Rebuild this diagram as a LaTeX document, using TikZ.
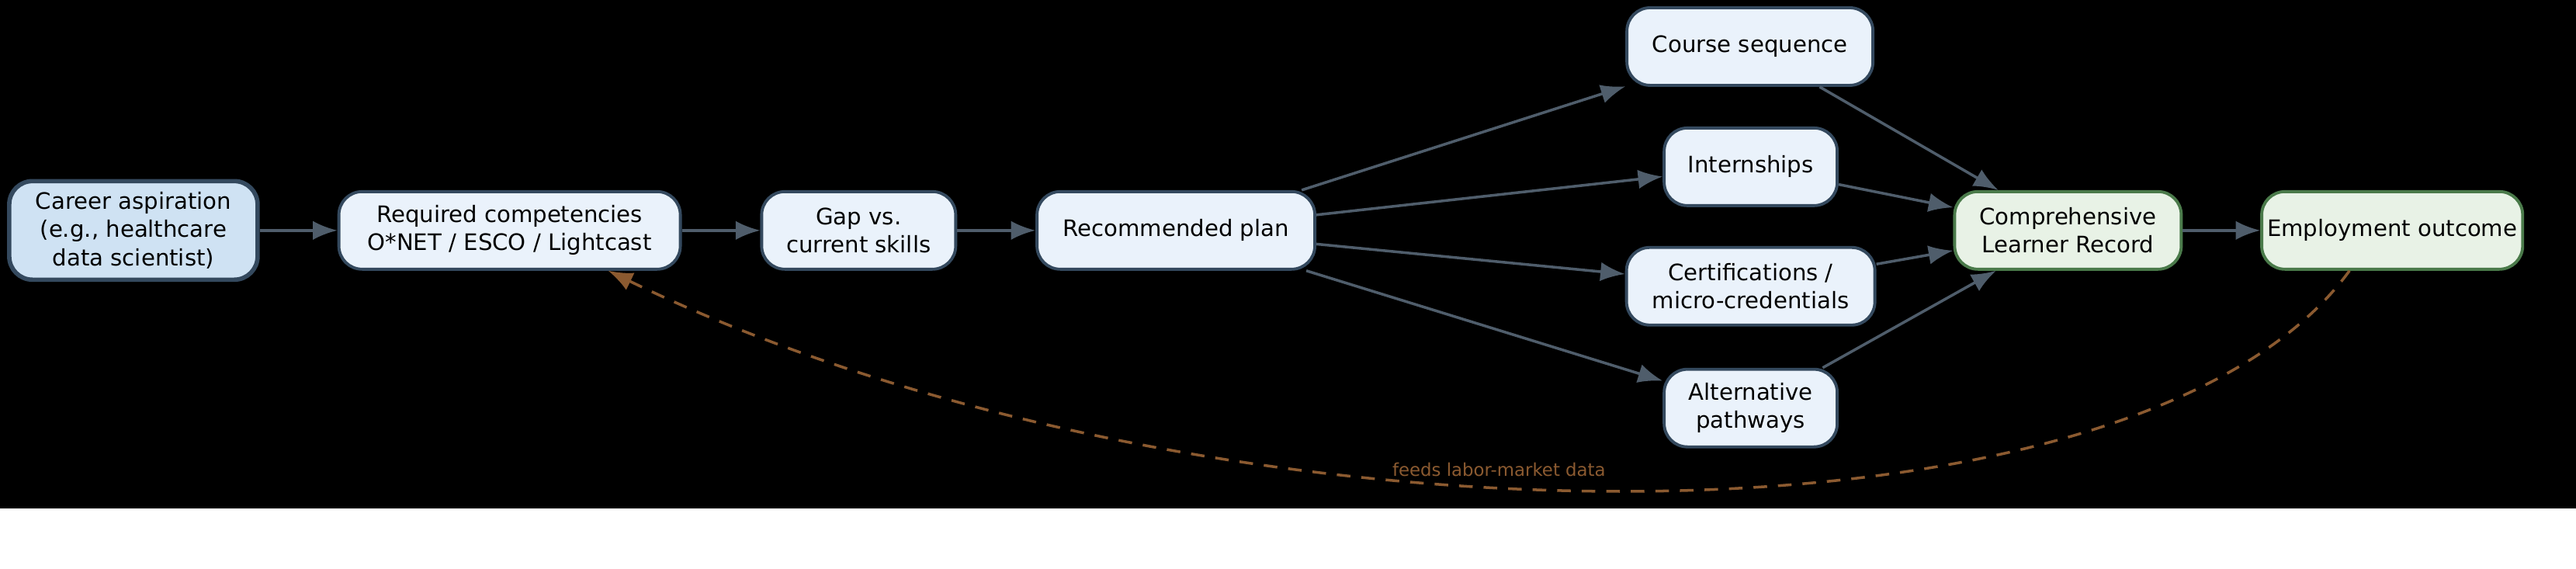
\documentclass[tikz,border=0pt]{standalone}
\usepackage{fontspec}
\setmainfont{DejaVu Sans}
\usetikzlibrary{arrows.meta}
\definecolor{boxline}{HTML}{34495E}
\definecolor{boxfill}{HTML}{EAF2FB}
\definecolor{startfill}{HTML}{CFE2F3}
\definecolor{recfill}{HTML}{E8F2E6}
\definecolor{recline}{HTML}{4A7A4A}
\definecolor{edgecol}{HTML}{4F5D6B}
\definecolor{feedcol}{HTML}{8B5A30}
\begin{document}
\begin{tikzpicture}[
    x=0.01cm, y=-0.01cm,
    stage/.style={rectangle, draw=boxline, fill=boxfill, line width=1.1pt, rounded corners=0.3cm, align=center, font=\fontsize{8.3}{10.3}\selectfont, minimum height=1.0cm, inner sep=2pt},
    start/.style={stage, fill=startfill, line width=1.6pt, minimum height=1.27cm},
    rec/.style={stage, draw=recline, fill=recfill},
    flow/.style={draw=edgecol, line width=1pt, -{Latex[length=9pt, width=7pt]}},
    feed/.style={draw=feedcol, line width=1pt, dashed, dash pattern=on 5pt off 4pt, -{Latex[length=9pt, width=7pt]}}
]
\fill[black] (-1,-1) rectangle (3320,654);

% Main chain
\node[start, minimum width=3.2cm] (aspire) at (171,296) {Career aspiration\\(e.g., healthcare\\data scientist)};
\node[stage, minimum width=4.4cm] (comp) at (656,296) {Required competencies\\O*NET / ESCO / Lightcast};
\node[stage, minimum width=2.5cm] (gap) at (1106,296) {Gap vs.\\current skills};
\node[stage, minimum width=3.58cm] (plan) at (1515,296) {Recommended plan};

% Plan components
\node[stage, minimum width=3.17cm] (course) at (2255,59) {Course sequence};
\node[stage, minimum width=2.23cm] (intern) at (2256,214) {Internships};
\node[stage, minimum width=3.2cm] (cert) at (2256,368) {Certifications /\\micro-credentials};
\node[stage, minimum width=2.23cm] (alt) at (2256,525) {Alternative\\pathways};

% Outcomes
\node[rec, minimum width=2.92cm] (clr) at (2665,296) {Comprehensive\\Learner Record};
\node[rec, minimum width=3.33cm] (job) at (3083,296) {Employment outcome};

\draw[flow] (aspire) -- (comp);
\draw[flow] (comp) -- (gap);
\draw[flow] (gap) -- (plan);
\draw[flow] (plan) -- (course);
\draw[flow] (plan) -- (intern);
\draw[flow] (plan) -- (cert);
\draw[flow] (plan) -- (alt);
\draw[flow] (course) -- (clr);
\draw[flow] (intern) -- (clr);
\draw[flow] (cert) -- (clr);
\draw[flow] (alt) -- (clr);
\draw[flow] (clr) -- (job);

% Feedback loop
\draw[feed] ([xshift=-0.55cm]job.south) .. controls (2750,730) and (1550,720) .. node[pos=0.56, above, font=\fontsize{6.5}{8}\selectfont, text=feedcol] {feeds labor-market data} ([xshift=1.27cm]comp.south);
\end{tikzpicture}
\end{document}
